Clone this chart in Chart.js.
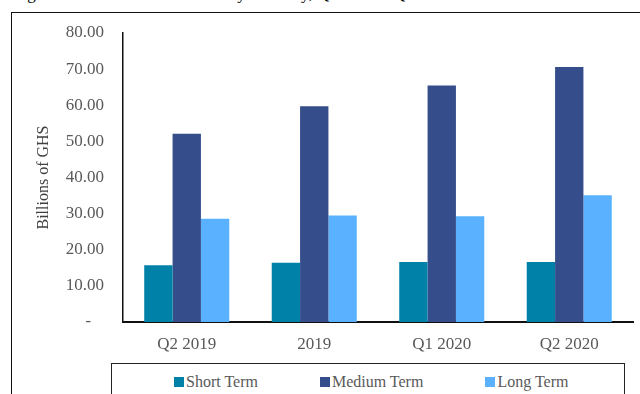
<!DOCTYPE html>
<html>
<head>
<meta charset="utf-8">
<script src="https://cdn.jsdelivr.net/npm/chart.js@4.4.1/dist/chart.umd.min.js"></script>
<style>
  html, body { margin: 0; padding: 0; background: #fff; overflow: hidden; }
  #page { position: relative; width: 640px; height: 394px; overflow: hidden; }
  #caption {
    position: absolute; left: 13px; top: -16px;
    font: 17px "Liberation Serif", serif; color: #000; white-space: nowrap;
  }
  #frame {
    position: absolute; left: 11px; top: 12px; width: 700px; height: 500px;
    border: 1.5px solid #111;
  }
  #chart { position: absolute; left: 0; top: 0; }
  #legend {
    position: absolute; left: 111px; top: 363px; width: 514px; height: 60px;
    border: 1.5px solid #222; background: #fff;
    display: flex; gap: 62px; padding: 8px 0 0 62px; box-sizing: border-box;
    font: 16px "Liberation Serif", serif; color: #595959;
  }
  #legend .item { display: flex; align-items: center; height: 20px; }
  #legend .swatch { width: 10px; height: 10px; margin-right: 2px; }
</style>
</head>
<body>
<div id="page">
  <div id="caption">Figure 5: Domestic Debt Stock by Maturity, Q2 2019 – Q2 2020</div>
  <div id="frame"></div>
  <canvas id="chart" width="640" height="394"></canvas>
  <div id="legend"></div>
</div>
<script>
// Debt stock by tenor, billions of GHS
const periods = ['Q2 2019', '2019', 'Q1 2020', 'Q2 2020'];
const shortTerm = [15.7, 16.4, 16.6, 16.6];
const mediumTerm = [52.1, 59.7, 65.5, 70.6];
const longTerm = [28.6, 29.5, 29.3, 35.1];
const seriesNames = ['Short Term', 'Medium Term', 'Long Term'];
const seriesColors = ['#0082A8', '#354D8A', '#59B1FF'];
const yTicks = [0, 10, 20, 30, 40, 50, 60, 70, 80];

const serif = '"Liberation Serif", "Times New Roman", serif';
const grey = '#595959';

const datasets = [shortTerm, mediumTerm, longTerm].map((values, i) => ({
  label: seriesNames[i],
  data: values,
  backgroundColor: seriesColors[i],
  borderWidth: 0,
  categoryPercentage: 0.667,
  barPercentage: 1.0
}));

const chart = new Chart(document.getElementById('chart'), {
  type: 'bar',
  data: { labels: periods, datasets: datasets },
  options: {
    responsive: false,
    animation: false,
    layout: { padding: { top: 33, right: 7, bottom: 0, left: 0 } },
    plugins: {
      legend: { display: false },
      tooltip: { enabled: false }
    },
    scales: {
      x: {
        grid: { display: false, drawTicks: false },
        border: { display: true, color: '#111', width: 2 },
        ticks: { color: grey, font: { family: serif, size: 17 }, padding: 12 },
        afterFit: scale => { scale.height = 72; }
      },
      y: {
        min: 0,
        max: 80,
        grid: { display: false, drawTicks: false },
        border: { display: true, color: '#111', width: 1.5 },
        afterBuildTicks: scale => {
          scale.ticks = yTicks.map(v => ({ value: v }));
        },
        ticks: {
          color: grey,
          font: { family: serif, size: 17 },
          padding: 19,
          callback: v => v === 0 ? '-   ' : v.toFixed(2)
        },
        title: {
          display: true,
          text: 'Billions of GHS',
          color: '#404040',
          font: { family: serif, size: 16 },
          padding: { top: 34, bottom: 0 }
        },
        afterFit: scale => { scale.width = 123; }
      }
    }
  }
});

// Legend drawn as a boxed row below the axis
const legendEl = document.getElementById('legend');
chart.data.datasets.forEach(ds => {
  const item = document.createElement('div');
  item.className = 'item';
  const swatch = document.createElement('span');
  swatch.className = 'swatch';
  swatch.style.background = ds.backgroundColor;
  const text = document.createElement('span');
  text.textContent = ds.label;
  item.appendChild(swatch);
  item.appendChild(text);
  legendEl.appendChild(item);
});
</script>
</body>
</html>
